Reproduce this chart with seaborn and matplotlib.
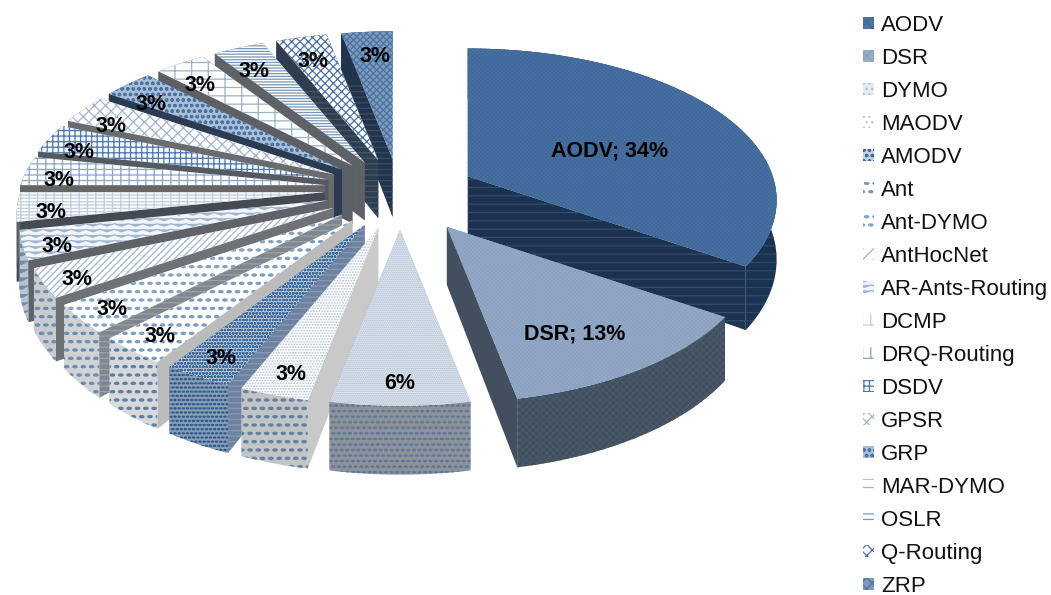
import numpy as np
import matplotlib
matplotlib.use("Agg")
import matplotlib.pyplot as plt
import matplotlib.hatch as mhatch
from matplotlib.colors import to_rgb
from matplotlib.path import Path
from matplotlib.patches import Polygon, Patch
import seaborn as sns

protocols = ["AODV", "DSR", "DYMO", "MAODV", "AMODV", "Ant", "Ant-DYMO", "AntHocNet",
             "AR-Ants-Routing", "DCMP", "DRQ-Routing", "DSDV", "GPSR", "GRP",
             "MAR-DYMO", "OSLR", "Q-Routing", "ZRP"]
counts = [11, 4, 2, 1, 1, 1, 1, 1, 1, 1, 1, 1, 1, 1, 1, 1, 1, 1]

# top face style: face colour, hatch colour, hatch ('*' wave, 'O' short dashes, see below)
top_styles = [
    ("#4a72a3", "#41699a", "xxxxxxxx"), ("#95abc8", "#8ba2c1", "xxxxxxxx"),
    ("#e6ebf2", "#a9bace", "........"), ("#ffffff", "#b4c4d8", "......"),
    ("#c3d0e0", "#3f6a9c", "ooooo"),    ("#ffffff", "#7c9bc0", "OO"),
    ("#ffffff", "#86a3c6", "OO"),       ("#ffffff", "#9fb5cf", "/////"),
    ("#f2f5f9", "#9fb5cf", "***"),      ("#ffffff", "#c0cfe0", "||-----"),
    ("#ffffff", "#8ba7c7", "||---"),    ("#f4f7fa", "#4f78a8", "+++"),
    ("#ffffff", "#9fb5cf", "xxx"),      ("#a9bdd5", "#4a72a3", "ooo"),
    ("#ffffff", "#9ab2cd", "+-"),       ("#ffffff", "#7896b9", "------"),
    ("#ffffff", "#4a72a3", "xxxx"),     ("#7e9abc", "#4a72a3", "xxxxx"),
]
# side style: radial colour, radial hatch, arc colour, arc hatch colour, arc hatch
side_styles = [
    ("#1b3350", "--", "#1b3350", "#2c4a6c", "--"),
    ("#414f5e", "", "#414f5e", "#4a5a6a", "xxxxx"),
    ("#8c9096", "", "#8f9398", "#5c7a9e", "OOO"),
    ("#c9c9c9", "", "#c2c4c7", "#63809f", "OO"),
    ("#6d829e", "---", "#8a9db5", "#2f5a8e", "OOOO"),
    ("#bbbbbb", "", "#d6d8db", "#5c7fa8", "OO"),
    ("#80878f", "---", "#d0d2d5", "#6d8cb0", "OO"),
    ("#6e7277", "", "#c9cbce", "#6d8cb0", "OO"),
    ("#5f6266", "", "#b9c4d2", "#6d8cb0", "**"),
    ("#454b55", "", "#5e6064", "#5e6064", ""),
    ("#666666", "", "#666666", "#666666", ""),
    ("#555a61", "", "#555a61", "#555a61", ""),
    ("#6a6b6d", "", "#6a6b6d", "#6a6b6d", ""),
    ("#2a3b52", "", "#2a3b52", "#2a3b52", ""),
    ("#5c5f63", "", "#5c5f63", "#5c5f63", ""),
    ("#5e6165", "", "#5e6165", "#5e6165", ""),
    ("#2f3d50", "---", "#2f3d50", "#2f3d50", ""),
    ("#22344c", "---", "#22344c", "#22344c", ""),
]


class WaveHatch(mhatch.HatchPatternBase):
    """Zigzag rows, drawn for the '*' hatch character."""
    zigs = 14

    def __init__(self, hatch, density):
        self.num_lines = hatch.count("*") * density
        self.num_vertices = self.num_lines * (self.zigs + 1)

    def set_vertices_and_codes(self, vertices, codes):
        steps = self.zigs + 1
        for row in range(self.num_lines):
            base = (row + 0.5) / self.num_lines
            amp = 0.22 / self.num_lines
            x = np.linspace(0, 1, steps)
            y = base + amp * np.where(np.arange(steps) % 2 == 0, 1, -1)
            start = row * steps
            vertices[start:start + steps, 0] = x
            vertices[start:start + steps, 1] = y
            codes[start] = Path.MOVETO
            codes[start + 1:start + steps] = Path.LINETO


class DashHatch(mhatch.Circles):
    """Staggered flat filled ellipses, drawn for the 'O' hatch character."""
    size = 0.13
    filled = True

    def __init__(self, hatch, density):
        self.num_rows = hatch.count("O") * density
        path = Path.unit_circle()
        self.shape_vertices = path.vertices * np.array([2.0, 1.0])
        self.shape_codes = path.codes
        mhatch.Shapes.__init__(self, hatch, density)


mhatch._hatch_types[:] = [
    WaveHatch if c is mhatch.Stars else DashHatch if c is mhatch.LargeCircles else c
    for c in mhatch._hatch_types
]

sns.set_theme(style="white")
plt.rcParams["font.family"] = ["Liberation Sans", "DejaVu Sans"]
plt.rcParams["hatch.linewidth"] = 0.9

fig = plt.figure(figsize=(10.51, 5.95), dpi=100, facecolor="white")
ax = fig.add_axes([0, 0, 1, 1])
ax.set_xlim(0, 1051)
ax.set_ylim(595, 0)
ax.axis("off")

# projection of the tilted disc
A, B, K, H = 305.0, 148.0, 0.158, 58.0
CX, CY, EX_RIGHT, EX_LEFT, EY_BACK, EY_FRONT = 400.0, 188.0, 70.0, 75.0, 29.0, 42.0
APEX_SHIFT = {0: (6, 2), 1: (8, 4)}
LABEL_POS = {0: (70.0, 0.51), 1: (150.0, 0.75)}   # label angle and radius
LABEL_RX, LABEL_RY, LABEL_DX, LABEL_DY = 0.91, 0.85, 6.0, 8.0


def uv(theta):
    return np.sin(theta), -np.cos(theta)


def project(theta, r=1.0):
    u, v = uv(theta)
    s = 1.0 / (1.0 - K * v * r)
    return A * u * r * s, B * v * r * s, s


total = sum(counts)
edges = np.radians(np.concatenate([[0], np.cumsum(counts)]) / total * 360.0)


def add(points, fc, ec=None, hatch="", z=1, lw=0.0):
    ax.add_patch(Polygon(points, closed=True, facecolor=fc, edgecolor=ec or fc,
                         hatch=hatch or None, linewidth=lw, zorder=z))


def draw_slice(i, z):
    t0, t1 = edges[i], edges[i + 1]
    mid = (t0 + t1) / 2
    mu, mv = uv(mid)
    ey = EY_FRONT if mv > 0 else EY_BACK
    ex = EX_RIGHT if mu > 0 else EX_LEFT
    sx, sy = APEX_SHIFT.get(i, (0, 0))
    ax0, ay0 = CX + ex * mu + sx, CY + ey * mv + sy

    th = np.linspace(t0, t1, max(counts[i] * 8, 12))
    px, py, ps = project(th)
    tx, ty = ax0 + px, ay0 + py
    bx, by = tx, ty + H * ps

    rc, rh, ac, ahc, ah = side_styles[i]
    radial = lambda j: [(ax0, ay0), (tx[j], ty[j]), (bx[j], by[j]), (ax0, ay0 + H)]
    faces = [radial(0), radial(-1)]
    faces.sort(key=lambda f: np.mean([p[1] for p in f]))
    stripe = tuple(np.clip(np.array(to_rgb(rc)) + 0.1, 0, 1))
    for pts in faces:
        add(pts, rc, ec=stripe if rh else rc, hatch=rh, z=z)
    arc = np.vstack([np.column_stack([tx, ty]), np.column_stack([bx[::-1], by[::-1]])])
    add(arc, ac, ec=ahc, hatch=ah, z=z + 0.1)

    fc, hc, h = top_styles[i]
    top = np.vstack([[(ax0, ay0)], np.column_stack([tx, ty])])
    add(top, fc, ec=hc, hatch=h, z=z + 0.2)

    if i in LABEL_POS:
        ang, r = LABEL_POS[i]
        lx, ly, _ = project(np.radians(ang), r)
    else:
        lx = project(mid, LABEL_RX)[0] + (LABEL_DX if i != 2 else 0)
        ly = project(mid, LABEL_RY)[1] + LABEL_DY
    pct = int(counts[i] / total * 100 + 0.5)
    label = f"{protocols[i]}; {pct}%" if i < 2 else f"{pct}%"
    ax.text(ax0 + lx, ay0 + ly, label, ha="center", va="center", fontsize=15.5,
            fontweight="bold", color="black", zorder=100)


mids = (edges[:-1] + edges[1:]) / 2
order = np.argsort(uv(mids)[1])
for z, i in enumerate(order):
    draw_slice(i, 2 + z)

handles = [Patch(facecolor=fc, edgecolor=hc, hatch=h[:3], linewidth=0)
           for fc, hc, h in top_styles]
leg = ax.legend(handles, protocols, loc="upper left", bbox_to_anchor=(863 / 1051, 1 - 15 / 595),
                frameon=False, fontsize=16, handlelength=0.5, handleheight=0.5,
                handletextpad=0.32, labelspacing=0.54, borderpad=0, borderaxespad=0)
for t in leg.get_texts():
    t.set_color("#111111")

fig.savefig("out.png", dpi=100, facecolor="white")
